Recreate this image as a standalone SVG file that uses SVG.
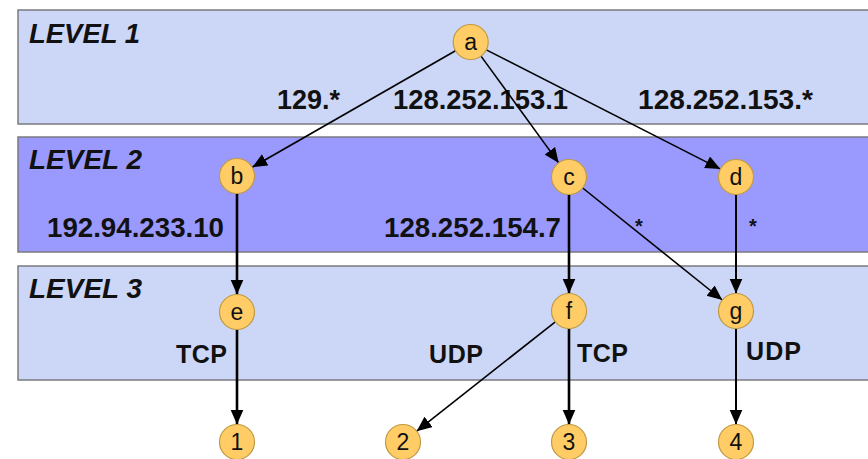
<svg xmlns="http://www.w3.org/2000/svg" width="868" height="459" viewBox="0 0 868 459">
<style>
.band{stroke:#7a7a80;stroke-width:1.5}
.lvl{font-family:"Liberation Sans",Arial,sans-serif;font-weight:bold;font-style:italic;font-size:27px;fill:#111}
.lbl{font-family:"Liberation Sans",Arial,sans-serif;font-weight:bold;font-size:27px;fill:#111}
.pl{font-family:"Liberation Sans",Arial,sans-serif;font-weight:bold;font-size:25px;fill:#111}
.star{font-family:"Liberation Sans",Arial,sans-serif;font-weight:bold;font-size:20px;fill:#111}
.node circle{fill:#FFCC66;stroke:#C09A45;stroke-width:1.2}
.node text{font-family:"Liberation Sans",Arial,sans-serif;font-size:23px;fill:#111;text-anchor:middle}
.thin{stroke:#000;stroke-width:1.6;fill:none}
.mid{stroke:#000;stroke-width:2;fill:none}
.thick{stroke:#000;stroke-width:2.6;fill:none}
</style>
<defs>
<marker id="ah" markerUnits="userSpaceOnUse" markerWidth="16" markerHeight="14" refX="15" refY="6.5" orient="auto" viewBox="0 0 16 14">
<path d="M0,0 L15,6.5 L0,13 z" fill="#000"/>
</marker>
</defs>
<rect width="868" height="459" fill="#fff"/>
<g id="bands">
<rect class="band" x="18" y="10" width="860" height="114" fill="#CCD7F7"/>
<rect class="band" x="18" y="137" width="860" height="115" fill="#9A9AFE"/>
<rect class="band" x="18" y="266" width="860" height="114" fill="#CCD7F7"/>
<text class="lvl" x="29" y="43" textLength="111" lengthAdjust="spacingAndGlyphs">LEVEL 1</text>
<text class="lvl" x="29" y="169" textLength="113" lengthAdjust="spacingAndGlyphs">LEVEL 2</text>
<text class="lvl" x="29" y="298" textLength="113" lengthAdjust="spacingAndGlyphs">LEVEL 3</text>
</g>
<g id="labels">
<text class="lbl" x="277" y="109" textLength="63" lengthAdjust="spacingAndGlyphs">129.*</text>
<text class="lbl" x="393" y="109" textLength="175" lengthAdjust="spacingAndGlyphs">128.252.153.1</text>
<text class="lbl" x="638" y="109" textLength="175" lengthAdjust="spacingAndGlyphs">128.252.153.*</text>
<text class="lbl" x="47" y="237" textLength="177" lengthAdjust="spacingAndGlyphs">192.94.233.10</text>
<text class="lbl" x="384" y="237" textLength="177" lengthAdjust="spacingAndGlyphs">128.252.154.7</text>
<text class="star" x="635" y="233">*</text>
<text class="star" x="749" y="233">*</text>
<text class="pl" x="176" y="363" textLength="51" lengthAdjust="spacing">TCP</text>
<text class="pl" x="429" y="363" textLength="54" lengthAdjust="spacing">UDP</text>
<text class="pl" x="577" y="362" textLength="51" lengthAdjust="spacing">TCP</text>
<text class="pl" x="746" y="360" textLength="55" lengthAdjust="spacing">UDP</text>
</g>
<g id="connectors">
<line class="thin" x1="455.5" y1="50.7" x2="252.2" y2="167.3" marker-end="url(#ah)"/>
<line class="thin" x1="481" y1="56.1" x2="558.7" y2="162.9" marker-end="url(#ah)"/>
<line class="thin" x1="486.3" y1="49.9" x2="720.4" y2="169.1" marker-end="url(#ah)"/>
<line class="thick" x1="237" y1="193.5" x2="237" y2="294.5" marker-end="url(#ah)"/>
<line class="thick" x1="569" y1="194.5" x2="569" y2="293.5" marker-end="url(#ah)"/>
<line class="thin" x1="582.7" y1="188" x2="722.3" y2="300" marker-end="url(#ah)"/>
<line class="mid" x1="736" y1="194.5" x2="736" y2="293.5" marker-end="url(#ah)"/>
<line class="thick" x1="237" y1="329.5" x2="237" y2="424.5" marker-end="url(#ah)"/>
<line class="thin" x1="555.3" y1="321.8" x2="416.7" y2="431.2" marker-end="url(#ah)"/>
<line class="thick" x1="569" y1="328.5" x2="569" y2="424.5" marker-end="url(#ah)"/>
<line class="mid" x1="736" y1="328.5" x2="736" y2="424.5" marker-end="url(#ah)"/>
</g>
<g id="node-a" class="node"><circle cx="470.7" cy="42" r="17.5"/><text x="470.7" y="50">a</text></g>
<g id="node-b" class="node"><circle cx="237" cy="176" r="17.5"/><text x="237" y="184">b</text></g>
<g id="node-c" class="node"><circle cx="569" cy="177" r="17.5"/><text x="569" y="185">c</text></g>
<g id="node-d" class="node"><circle cx="736" cy="177" r="17.5"/><text x="736" y="185">d</text></g>
<g id="node-e" class="node"><circle cx="237" cy="312" r="17.5"/><text x="237" y="320">e</text></g>
<g id="node-f" class="node"><circle cx="569" cy="311" r="17.5"/><text x="569" y="319">f</text></g>
<g id="node-g" class="node"><circle cx="736" cy="311" r="17.5"/><text x="736" y="319">g</text></g>
<g id="node-1" class="node"><circle cx="237" cy="442" r="17.5"/><text x="237" y="450">1</text></g>
<g id="node-2" class="node"><circle cx="403" cy="442" r="17.5"/><text x="403" y="450">2</text></g>
<g id="node-3" class="node"><circle cx="569" cy="442" r="17.5"/><text x="569" y="450">3</text></g>
<g id="node-4" class="node"><circle cx="736" cy="442" r="17.5"/><text x="736" y="450">4</text></g>
</svg>
